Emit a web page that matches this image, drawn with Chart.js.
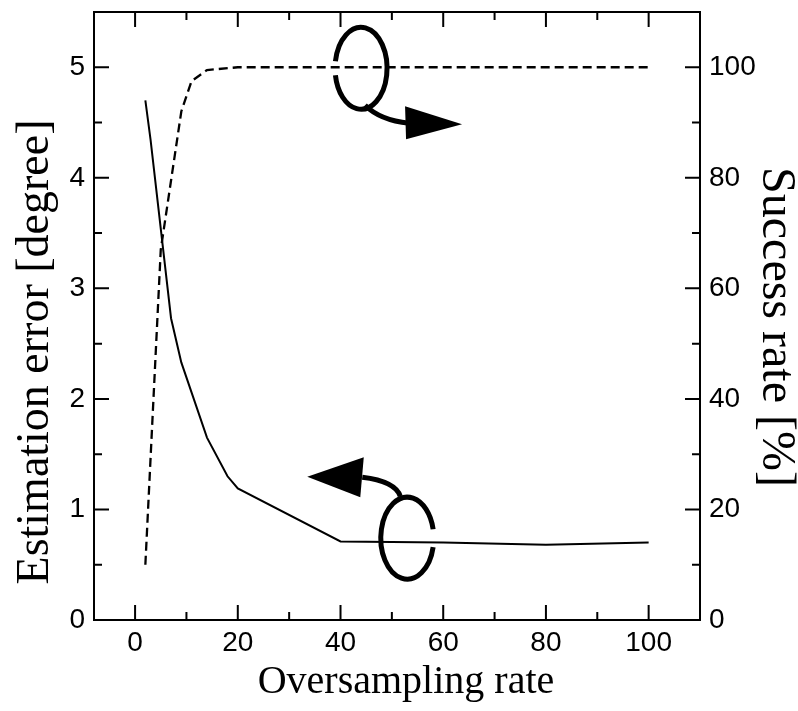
<!DOCTYPE html>
<html>
<head>
<meta charset="utf-8">
<script src="https://cdn.jsdelivr.net/npm/chart.js@4.4.0/dist/chart.umd.min.js"></script>
<style>
  html, body { margin: 0; padding: 0; background: #fff; }
</style>
</head>
<body>
<canvas id="chart" width="798" height="711"></canvas>
<script>
// estimation error (left axis, solid)
const errorX = [2, 3, 7, 9, 14, 18, 20, 40, 60, 80, 100];
const errorY = [4.70, 4.35, 2.73, 2.33, 1.65, 1.30, 1.19, 0.71, 0.70, 0.68, 0.70];
// success rate (right axis, dashed)
const successX = [2, 5, 9, 11, 14, 20, 40, 60, 80, 100];
const successY = [10, 67, 92, 97.5, 99.5, 100, 100, 100, 100, 100];

const xTicks = [0, 20, 40, 60, 80, 100];
const leftTicks = [0, 1, 2, 3, 4, 5];
const rightTicks = [0, 20, 40, 60, 80, 100];

const tickFont = { family: 'Liberation Sans', size: 28 };

function setTicks(list) {
  return s => { s.ticks = list.map(v => ({ value: v })); };
}

// frame, inward ticks, titles and the loop arrows
const decorations = {
  id: 'decorations',
  afterDatasetsDraw(chart) {
    const { ctx, chartArea: a, scales } = chart;
    const x = scales.x, y = scales.y, y2 = scales.y2;
    ctx.save();
    ctx.strokeStyle = '#000';
    ctx.fillStyle = '#000';
    ctx.lineWidth = 2;
    ctx.setLineDash([]);
    ctx.strokeRect(a.left, a.top, a.right - a.left, a.bottom - a.top);

    ctx.beginPath();
    for (let v = 0; v <= 100; v += 10) {
      const px = x.getPixelForValue(v);
      const len = v % 20 === 0 ? 15 : 8;
      ctx.moveTo(px, a.bottom); ctx.lineTo(px, a.bottom - len);
      ctx.moveTo(px, a.top); ctx.lineTo(px, a.top + len);
    }
    for (let v = 0; v <= 5; v += 0.5) {
      const py = y.getPixelForValue(v);
      const len = v % 1 === 0 ? 15 : 8;
      ctx.moveTo(a.left, py); ctx.lineTo(a.left + len, py);
    }
    for (let v = 0; v <= 100; v += 10) {
      const py = y2.getPixelForValue(v);
      const len = v % 20 === 0 ? 15 : 8;
      ctx.moveTo(a.right, py); ctx.lineTo(a.right - len, py);
    }
    ctx.stroke();

    // upper loop -> points to right axis
    let cx = x.getPixelForValue(44), cy = y2.getPixelForValue(100) + 1;
    ctx.lineWidth = 5;
    ctx.beginPath();
    ctx.ellipse(cx, cy, 26, 41, 0, Math.PI + 0.17, 3 * Math.PI - 0.17);
    ctx.stroke();
    ctx.beginPath();
    ctx.moveTo(cx + 4, cy + 37);
    ctx.quadraticCurveTo(cx + 19, cy + 52, cx + 48, cy + 55);
    ctx.stroke();
    ctx.beginPath();
    ctx.moveTo(cx + 44, cy + 38);
    ctx.lineTo(cx + 101, cy + 56);
    ctx.lineTo(cx + 45, cy + 71);
    ctx.closePath();
    ctx.fill();

    // lower loop -> points to left axis
    cx = x.getPixelForValue(53); cy = y.getPixelForValue(0.74);
    ctx.beginPath();
    ctx.ellipse(cx, cy, 26.5, 41, 0, 0.22, 2 * Math.PI - 0.22);
    ctx.stroke();
    ctx.beginPath();
    ctx.moveTo(cx - 7, cy - 42);
    ctx.quadraticCurveTo(cx - 12, cy - 57, cx - 45, cy - 61);
    ctx.stroke();
    ctx.beginPath();
    ctx.moveTo(cx - 43.5, cy - 81);
    ctx.lineTo(cx - 100, cy - 61.5);
    ctx.lineTo(cx - 47, cy - 41);
    ctx.closePath();
    ctx.fill();

    // axis titles
    ctx.textAlign = 'center';
    ctx.textBaseline = 'middle';
    ctx.font = '40px "Liberation Serif"';
    ctx.fillText('Oversampling rate', (a.left + a.right) / 2 + 9, 682);

    ctx.font = '46px "Liberation Serif"';
    ctx.save();
    ctx.translate(36, 352);
    ctx.rotate(-Math.PI / 2);
    ctx.fillText('Estimation error [degree]', 0, 0);
    ctx.restore();

    ctx.font = '48px "Liberation Serif"';
    ctx.save();
    ctx.translate(776, 327);
    ctx.rotate(Math.PI / 2);
    ctx.fillText('Success rate [%]', 0, 0);
    ctx.restore();

    ctx.restore();
  }
};

const axisBase = {
  grid: { display: false, drawTicks: false },
  border: { display: false },
};

new Chart(document.getElementById('chart'), {
  type: 'line',
  data: {
    datasets: [
      {
        data: errorX.map((v, i) => ({ x: v, y: errorY[i] })),
        yAxisID: 'y',
        borderColor: '#000',
        borderWidth: 2,
        pointRadius: 0,
        tension: 0
      },
      {
        data: successX.map((v, i) => ({ x: v, y: successY[i] })),
        yAxisID: 'y2',
        borderColor: '#000',
        borderWidth: 2.3,
        borderDash: [9, 5],
        pointRadius: 0,
        tension: 0
      }
    ]
  },
  options: {
    responsive: false,
    devicePixelRatio: 1,
    animation: false,
    layout: { padding: { top: 12, left: 0, right: 0, bottom: 0 } },
    plugins: { legend: { display: false }, tooltip: { enabled: false } },
    scales: {
      x: {
        ...axisBase,
        type: 'linear',
        position: 'bottom',
        min: -8,
        max: 110,
        afterBuildTicks: setTicks(xTicks),
        afterFit: s => { s.height = 91; s.paddingLeft = 0; s.paddingRight = 0; },
        ticks: { color: '#000', font: tickFont, padding: 6, maxRotation: 0 }
      },
      y: {
        ...axisBase,
        type: 'linear',
        position: 'left',
        min: 0,
        max: 5.5,
        afterBuildTicks: setTicks(leftTicks),
        afterFit: s => { s.width = 94; s.paddingTop = 0; s.paddingBottom = 0; },
        ticks: { color: '#000', font: tickFont, padding: 9 }
      },
      y2: {
        ...axisBase,
        type: 'linear',
        position: 'right',
        min: 0,
        max: 110,
        afterBuildTicks: setTicks(rightTicks),
        afterFit: s => { s.width = 98; s.paddingTop = 0; s.paddingBottom = 0; },
        ticks: { color: '#000', font: tickFont, padding: 9 }
      }
    }
  },
  plugins: [decorations]
});
</script>
</body>
</html>
